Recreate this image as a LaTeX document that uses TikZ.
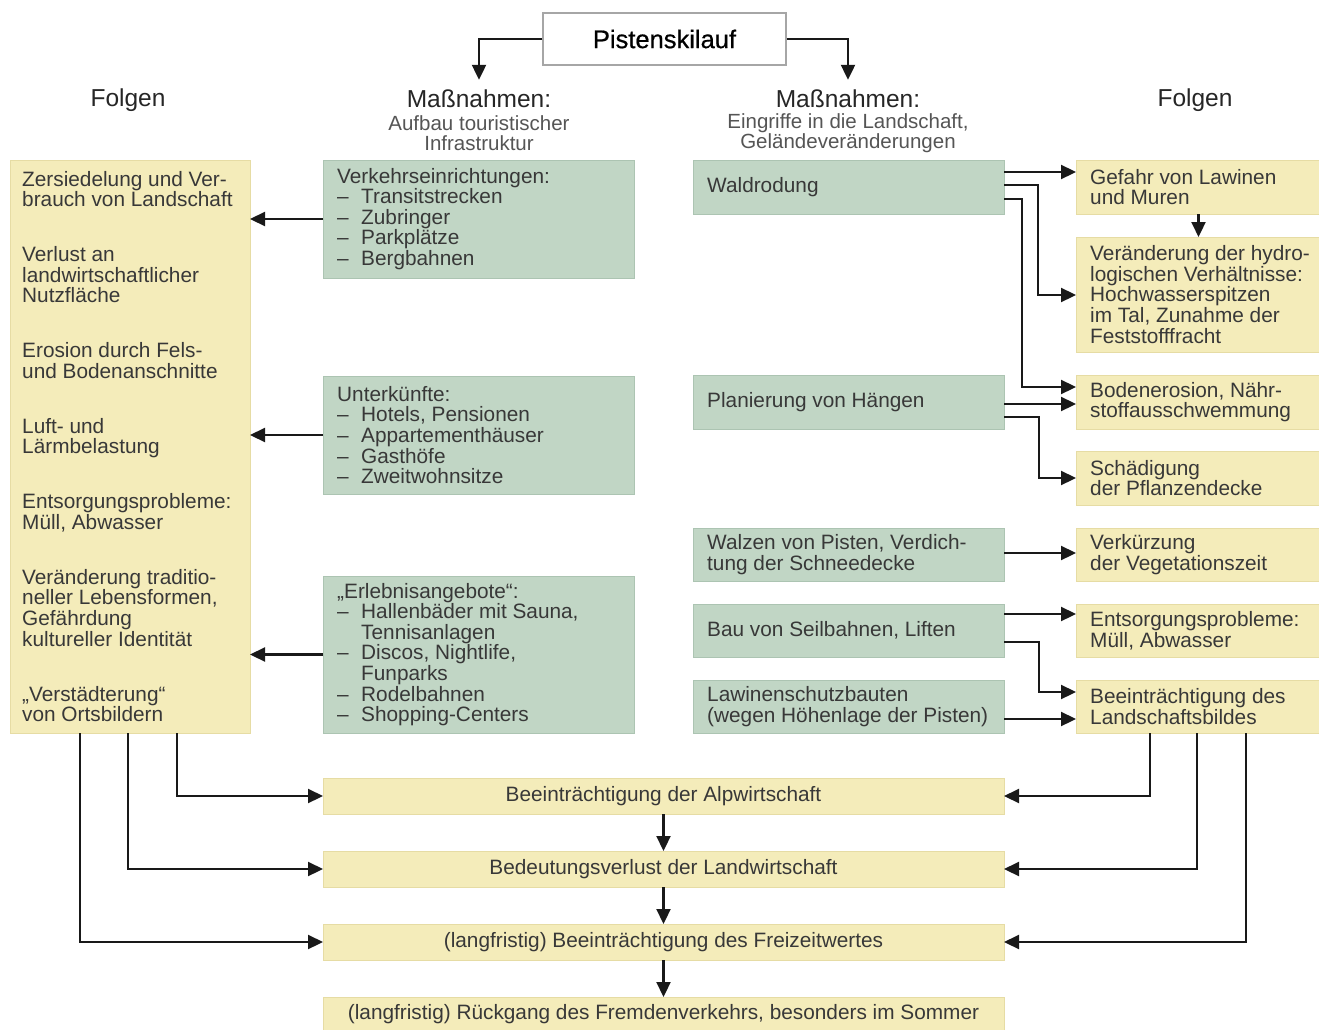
\documentclass[tikz,border=0pt]{standalone}
\usepackage{fontspec}
\setmainfont{Liberation Sans}
\newfontfamily\pistfont[FakeBold=0.6]{Liberation Sans}
\usetikzlibrary{arrows.meta}
\definecolor{yel}{HTML}{F4ECBA}
\definecolor{yelb}{HTML}{E6DCA4}
\definecolor{grn}{HTML}{C1D6C5}
\definecolor{grnb}{HTML}{ACC4B2}
\definecolor{txt}{HTML}{383838}
\definecolor{subtxt}{HTML}{555555}
\newcommand\bodyfont{\fontsize{20.8}{20.6}\selectfont\lineskiplimit=-30pt\relax}
\newcommand\dl{\makebox[24pt][l]{–}}
\newcommand\ind{\hspace*{24pt}}
\tikzset{
  ybox/.style={fill=yel, draw=yelb, line width=0.8pt, anchor=north west, inner sep=0pt, outer sep=0pt, font=\bodyfont, text=txt, align=center},
  gbox/.style={fill=grn, draw=grnb, line width=0.8pt, anchor=north west, inner sep=0pt, outer sep=0pt},
  lbl/.style={anchor=west, align=left, inner sep=0pt, font=\bodyfont, text=txt},
  hdr/.style={font=\fontsize{24.5}{26}\selectfont, text=black!85, inner xsep=2pt, inner ysep=10pt},
  sub/.style={font=\fontsize{20.5}{20}\selectfont, text=subtxt, align=center, inner sep=1pt},
  arr/.style={line width=2.2pt, draw=black!90, -{Triangle[length=15pt,width=14pt]}}
}
\begin{document}
\begin{tikzpicture}[x=1pt,y=-1pt]
\useasboundingbox (0,0) rectangle (1319,1030);
\fill[white] (0,0) rectangle (1319,1030);

% top
\node[draw=black!35, line width=1.5pt, fill=white, minimum width=243pt, minimum height=52pt, font=\pistfont\fontsize{25.5}{28}\selectfont, text=black, inner sep=0pt] (pist) at (664.5,39) {Pistenskilauf};

\node[hdr] (fl) at (128,100) {Folgen};
\node[hdr] (m1) at (479,99) {Maßnahmen:};
\node[sub] (m1s) at (479,133) {Aufbau touristischer\\Infrastruktur};
\node[hdr] (m2) at (848,99) {Maßnahmen:};
\node[sub] (m2s) at (848,133) {Eingriffe in die Landschaft,\\Geländeveränderungen};
\node[hdr] (fr) at (1195,100) {Folgen};

\draw[arr] (pist.west) -| (m1.north);
\draw[arr] (pist.east) -| (m2.north);

% left Folgen
\node[ybox, minimum width=240pt, minimum height=573pt] (lf) at (10,160) {};
\node[lbl] (lft) at ([xshift=12pt]lf.west) {Zersiedelung und Ver-\\brauch von Landschaft\\[34.3pt]
Verlust an\\landwirtschaftlicher\\Nutzfläche\\[34.3pt]
Erosion durch Fels-\\und Bodenanschnitte\\[34.3pt]
Luft- und\\Lärmbelastung\\[34.3pt]
Entsorgungsprobleme:\\Müll, Abwasser\\[34.3pt]
Veränderung traditio-\\neller Lebensformen,\\Gefährdung\\kultureller Identität\\[34.3pt]
„Verstädterung“\\von Ortsbildern};

% middle green
\node[gbox, minimum width=311pt, minimum height=118pt] (verk) at (323,160) {};
\node[lbl] (verkt) at ([xshift=14pt]verk.west) {Verkehrseinrichtungen:\\\dl Transitstrecken\\\dl Zubringer\\\dl Parkplätze\\\dl Bergbahnen};
\node[gbox, minimum width=311pt, minimum height=118pt] (unt) at (323,376) {};
\node[lbl] (untt) at ([xshift=14pt]unt.west) {Unterkünfte:\\\dl Hotels, Pensionen\\\dl Appartementhäuser\\\dl Gasthöfe\\\dl Zweitwohnsitze};
\node[gbox, minimum width=311pt, minimum height=157pt] (erl) at (323,576) {};
\node[lbl] (erlt) at ([xshift=14pt]erl.west) {„Erlebnisangebote“:\\\dl Hallenbäder mit Sauna,\\\ind Tennisanlagen\\\dl Discos, Nightlife,\\\ind Funparks\\\dl Rodelbahnen\\\dl Shopping-Centers};

% right green
\node[gbox, minimum width=311pt, minimum height=54pt] (wald) at (693,160) {};
\node[lbl] (waldt) at ([xshift=14pt]wald.west) {Waldrodung};
\node[gbox, minimum width=311pt, minimum height=54pt] (plan) at (693,375) {};
\node[lbl] (plant) at ([xshift=14pt]plan.west) {Planierung von Hängen};
\node[gbox, minimum width=311pt, minimum height=53pt] (walz) at (693,528) {};
\node[lbl] (walzt) at ([xshift=14pt]walz.west) {Walzen von Pisten, Verdich-\\tung der Schneedecke};
\node[gbox, minimum width=311pt, minimum height=53pt] (bau) at (693,604) {};
\node[lbl] (baut) at ([xshift=14pt]bau.west) {Bau von Seilbahnen, Liften};
\node[gbox, minimum width=311pt, minimum height=53pt] (law) at (693,680) {};
\node[lbl] (lawt) at ([xshift=14pt]law.west) {Lawinenschutzbauten\\(wegen Höhenlage der Pisten)};

% right Folgen
\node[ybox, minimum width=245pt, minimum height=54pt] (gef) at (1076,160) {};
\node[lbl] (geft) at ([xshift=14pt]gef.west) {Gefahr von Lawinen\\und Muren};
\node[ybox, minimum width=245pt, minimum height=115pt] (ver) at (1076,237) {};
\node[lbl] (vert) at ([xshift=14pt]ver.west) {Veränderung der hydro-\\logischen Verhältnisse:\\Hochwasserspitzen\\im Tal, Zunahme der\\Feststofffracht};
\node[ybox, minimum width=245pt, minimum height=54pt] (bod) at (1076,375) {};
\node[lbl] (bodt) at ([xshift=14pt]bod.west) {Bodenerosion, Nähr-\\stoffausschwemmung};
\node[ybox, minimum width=245pt, minimum height=54pt] (sch) at (1076,451) {};
\node[lbl] (scht) at ([xshift=14pt]sch.west) {Schädigung\\der Pflanzendecke};
\node[ybox, minimum width=245pt, minimum height=53pt] (vk) at (1076,528) {};
\node[lbl] (vkt) at ([xshift=14pt]vk.west) {Verkürzung\\der Vegetationszeit};
\node[ybox, minimum width=245pt, minimum height=53pt] (ent) at (1076,604) {};
\node[lbl] (entt) at ([xshift=14pt]ent.west) {Entsorgungsprobleme:\\Müll, Abwasser};
\node[ybox, minimum width=245pt, minimum height=53pt] (bl) at (1076,680) {};
\node[lbl] (blt) at ([xshift=14pt]bl.west) {Beeinträchtigung des\\Landschaftsbildes};

% bottom
\node[ybox, minimum width=681pt, minimum height=36pt] (alp) at (323,778) {Beeinträchtigung der Alpwirtschaft};
\node[ybox, minimum width=681pt, minimum height=36pt] (bed) at (323,851) {Bedeutungsverlust der Landwirtschaft};
\node[ybox, minimum width=681pt, minimum height=36pt] (frz) at (323,924) {(langfristig) Beeinträchtigung des Freizeitwertes};
\node[ybox, minimum width=681pt, minimum height=34pt] (rck) at (323,997) {(langfristig) Rückgang des Fremdenverkehrs, besonders im Sommer};

% left arrows
\draw[arr] (verk.west) -- (verk.west -| lf.east);
\draw[arr] (unt.west) -- (unt.west -| lf.east);
\draw[arr] (erl.west) -- (erl.west -| lf.east);

% right arrows
\draw[arr] (wald.east |- 0,172) -- (gef.west |- 0,172);
\draw[arr] (wald.east |- 0,185) -- (1038,185) |- (ver.west |- 0,295);
\draw[arr] (wald.east |- 0,199) -- (1022,199) |- (bod.west |- 0,387);
\draw[arr] (plan.east |- 0,404) -- (bod.west |- 0,404);
\draw[arr] (plan.east |- 0,417) -- (1039,417) |- (sch.west |- 0,478);
\draw[arr] (gef) -- (ver);
\draw[arr] (walz.east |- 0,553) -- (vk.west |- 0,553);
\draw[arr] (bau.east |- 0,614) -- (ent.west |- 0,614);
\draw[arr] (bau.east |- 0,642) -- (1039,642) |- (bl.west |- 0,692);
\draw[arr] (law.east |- 0,719) -- (bl.west |- 0,719);

% bottom connectors
\draw[arr] (lf.south -| 177,0) |- (alp.west);
\draw[arr] (lf.south -| 128,0) |- (bed.west);
\draw[arr] (lf.south -| 80,0) |- (frz.west);
\draw[arr] (bl.south -| 1150,0) |- (alp.east);
\draw[arr] (bl.south -| 1197,0) |- (bed.east);
\draw[arr] (bl.south -| 1246,0) |- (frz.east);
\draw[arr] (alp) -- (bed);
\draw[arr] (bed) -- (frz);
\draw[arr] (frz) -- (rck);
\end{tikzpicture}
\end{document}
